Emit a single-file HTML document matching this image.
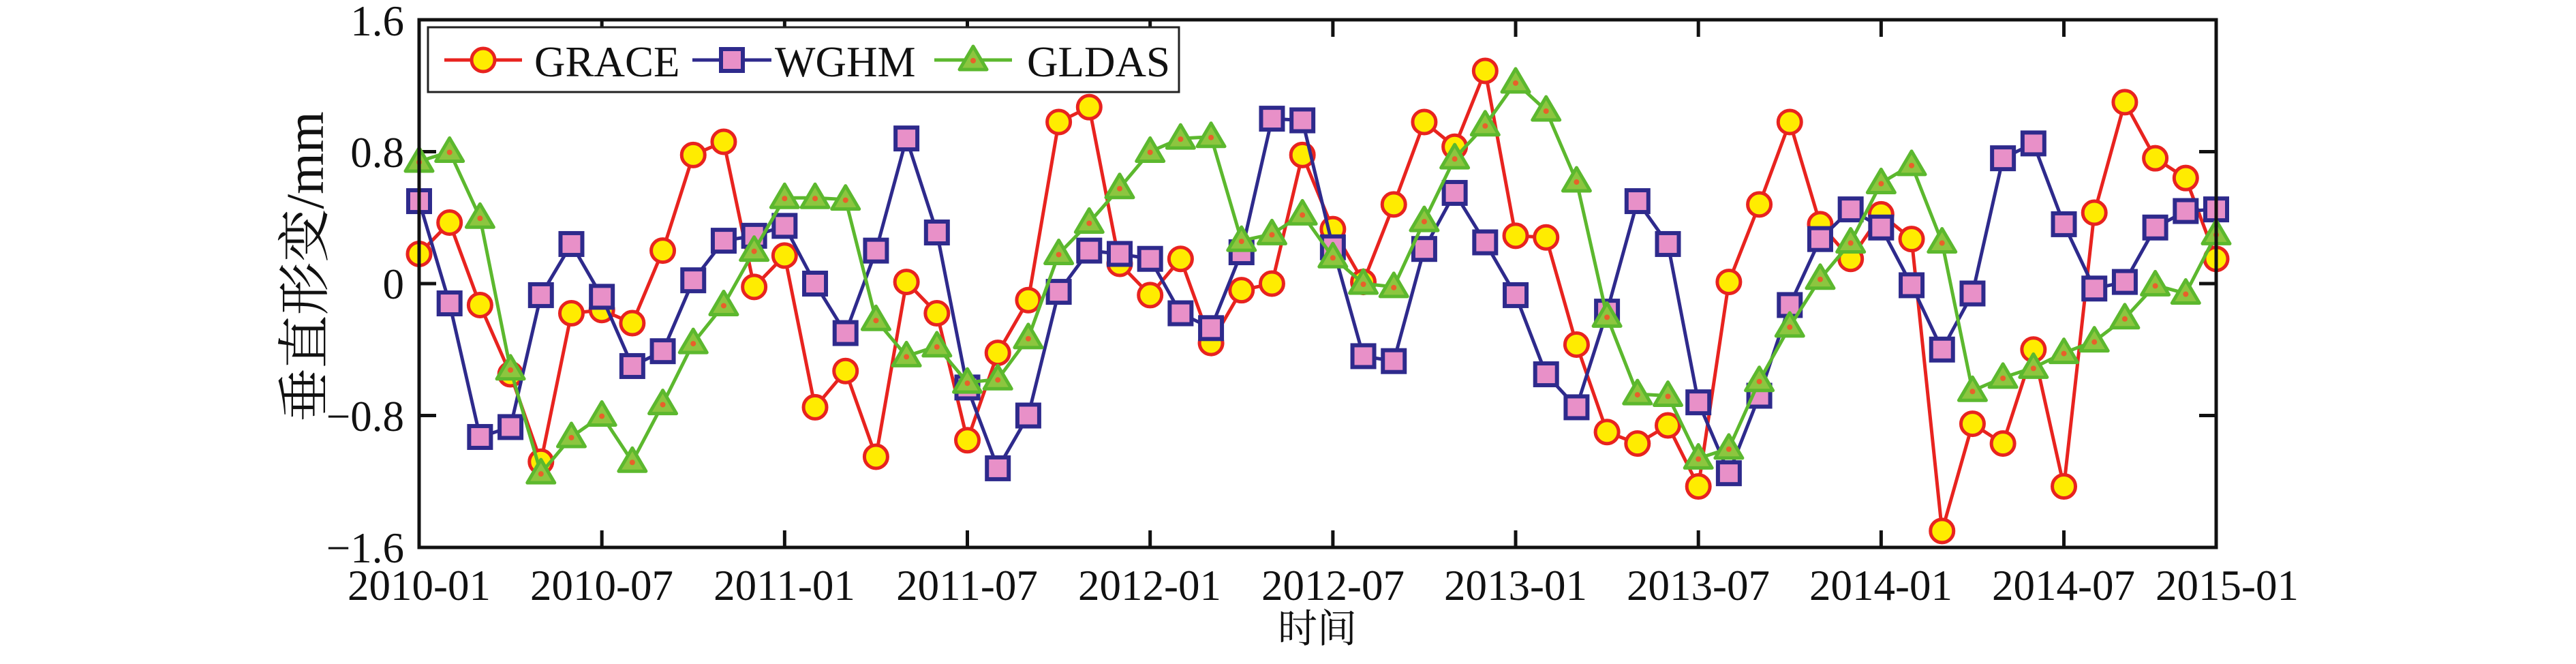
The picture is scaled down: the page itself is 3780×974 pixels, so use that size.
<!DOCTYPE html>
<html><head><meta charset="utf-8">
<style>
html,body{margin:0;padding:0;background:#fff;}
svg{display:block;}
text{font-family:"Liberation Serif","Noto Serif CJK SC",serif;fill:#111;}
</style></head>
<body>
<svg id="c" width="3780" height="974" viewBox="0 0 3780 974" xmlns="http://www.w3.org/2000/svg">
<rect width="3780" height="974" fill="#fff"/>
<g id="ticks" stroke="#111" stroke-width="5"></g>
<g id="series"></g>
<rect x="615" y="29" width="2637" height="774" fill="none" stroke="#111" stroke-width="5"/>
<rect x="628" y="40" width="1102" height="95" fill="#fff" stroke="#222" stroke-width="3"/>
<g id="leg"></g>
<text x="784" y="112" font-size="63">GRACE</text>
<text x="1137" y="112" font-size="63">WGHM</text>
<text x="1507" y="112" font-size="63">GLDAS</text>
<g font-size="63" text-anchor="end">
<text x="593" y="52">1.6</text>
<text x="593" y="245">0.8</text>
<text x="593" y="438">0</text>
<text x="593" y="632">−0.8</text>
<text x="593" y="825">−1.6</text>
</g>
<g font-size="63" text-anchor="middle">
<text x="615" y="880">2010-01</text>
<text x="883" y="880">2010-07</text>
<text x="1151" y="880">2011-01</text>
<text x="1419" y="880">2011-07</text>
<text x="1687" y="880">2012-01</text>
<text x="1956" y="880">2012-07</text>
<text x="2224" y="880">2013-01</text>
<text x="2492" y="880">2013-07</text>
<text x="2760" y="880">2014-01</text>
<text x="3028" y="880">2014-07</text>
<text x="3268" y="880">2015-01</text>
<text x="1933" y="942" font-family="'Noto Serif CJK SC','Noto Sans CJK SC',serif" font-size="58">时间</text>
<text transform="translate(474,391) rotate(-90)" font-family="'Noto Serif CJK SC','Noto Sans CJK SC',serif" font-size="78">垂直形变/mm</text>
</g>
</svg>
<script>
const NS="http://www.w3.org/2000/svg";
const X=i=>615+i*44.695, Y=v=>416-v*241.9;
function el(p,t,a){const e=document.createElementNS(NS,t);for(const k in a)e.setAttribute(k,a[k]);p.appendChild(e);return e;}
const tk=document.getElementById('ticks');
for(let i=6;i<59;i+=6){el(tk,'line',{x1:X(i),x2:X(i),y1:803,y2:778});el(tk,'line',{x1:X(i),x2:X(i),y1:29,y2:54});}
[0.8,0,-0.8].forEach(v=>{el(tk,'line',{x1:615,x2:640,y1:Y(v),y2:Y(v)});el(tk,'line',{x1:3252,x2:3227,y1:Y(v),y2:Y(v)});});
const grace=[0.18,0.37,-0.13,-0.55,-1.08,-0.18,-0.16,-0.24,0.2,0.78,0.86,-0.02,0.17,-0.75,-0.53,-1.05,0.01,-0.18,-0.95,-0.42,-0.1,0.98,1.07,0.12,-0.07,0.15,-0.36,-0.04,0.0,0.78,0.33,0.01,0.48,0.98,0.83,1.29,0.29,0.28,-0.37,-0.9,-0.97,-0.86,-1.23,0.01,0.48,0.98,0.36,0.15,0.42,0.27,-1.5,-0.85,-0.97,-0.4,-1.23,0.43,1.1,0.76,0.64,0.15];
const wghm=[0.5,-0.12,-0.93,-0.87,-0.07,0.24,-0.08,-0.5,-0.41,0.02,0.26,0.29,0.35,0.0,-0.3,0.2,0.88,0.31,-0.63,-1.12,-0.8,-0.05,0.2,0.18,0.15,-0.18,-0.27,0.19,1.0,0.99,0.22,-0.44,-0.47,0.21,0.55,0.25,-0.07,-0.55,-0.75,-0.17,0.5,0.24,-0.72,-1.15,-0.68,-0.13,0.27,0.45,0.34,-0.01,-0.4,-0.06,0.76,0.85,0.36,-0.03,0.01,0.34,0.44,0.45];
const glda=[0.74,0.8,0.4,-0.52,-1.15,-0.93,-0.8,-1.08,-0.73,-0.36,-0.13,0.2,0.52,0.52,0.51,-0.22,-0.44,-0.38,-0.6,-0.58,-0.33,0.18,0.37,0.58,0.8,0.88,0.89,0.26,0.3,0.42,0.16,0.0,-0.02,0.38,0.76,0.96,1.22,1.05,0.62,-0.2,-0.67,-0.68,-1.06,-1.0,-0.59,-0.26,0.03,0.25,0.61,0.72,0.25,-0.65,-0.57,-0.51,-0.42,-0.35,-0.21,-0.01,-0.06,0.3];
const sg=document.getElementById('series');
function circ(g,x,y){el(g,'circle',{cx:x,cy:y,r:17,fill:'#ffec00',stroke:'#e8231f','stroke-width':5});}
function sq(g,x,y){el(g,'rect',{x:x-16,y:y-16,width:32,height:32,fill:'#e890c8',stroke:'#2e2a8c','stroke-width':6});}
function tri(g,x,y){el(g,'polygon',{points:`${x},${y-20} ${x-20},${y+14} ${x+20},${y+14}`,fill:'#8cc63f',stroke:'#5cb82e','stroke-width':5,'stroke-linejoin':'round'});el(g,'circle',{cx:x,cy:y+1,r:4,fill:'#e8602a'});}
function series(d,col,mk){const g=el(sg,'g',{});el(g,'polyline',{points:d.map((v,i)=>X(i)+','+Y(v)).join(' '),fill:'none',stroke:col,'stroke-width':5,'stroke-linejoin':'round'});d.forEach((v,i)=>mk(g,X(i),Y(v)));}
series(grace,'#e8231f',circ);series(wghm,'#2e2a8c',sq);series(glda,'#5cb82e',tri);
const lg=document.getElementById('leg');
[[652,766,'#e8231f',circ],[1016,1132,'#2e2a8c',sq],[1371,1485,'#5cb82e',tri]].forEach(([a,b,c,m])=>{el(lg,'line',{x1:a,x2:b,y1:88,y2:88,stroke:c,'stroke-width':5});m(lg,(a+b)/2,88);});
</script>
</body></html>
